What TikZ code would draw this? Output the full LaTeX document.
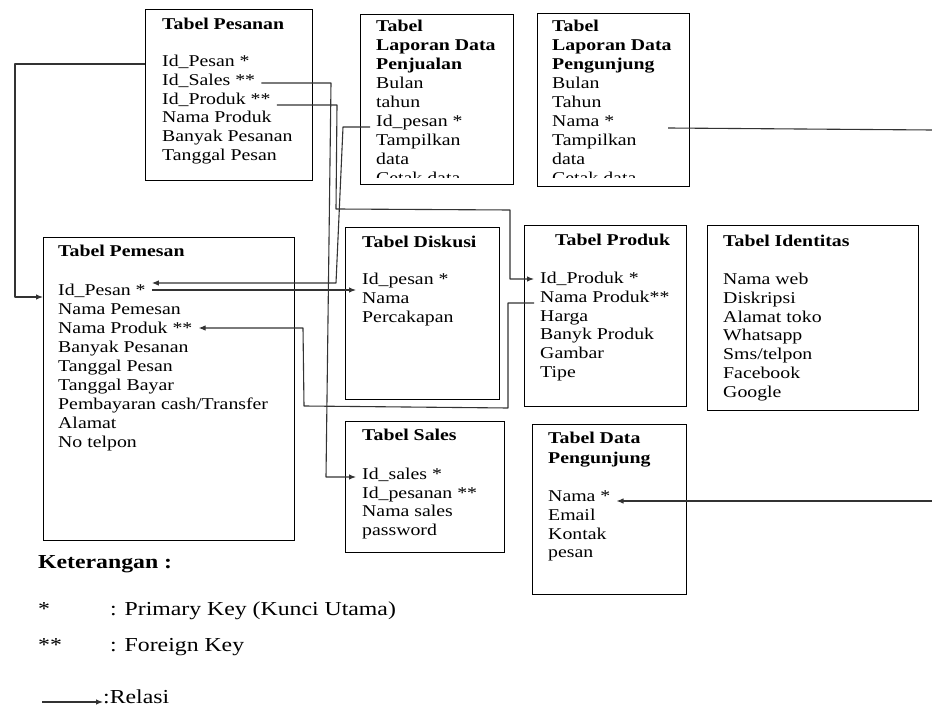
\documentclass[tikz,border=0pt]{standalone}
\usepackage{fontspec}
\setmainfont{Liberation Serif}[FakeStretch=1.2]
\usetikzlibrary{arrows.meta}

% rows of one table: style, name prefix, x, first baseline, line gap, lines
\newcommand\tblrows[6]{%
  \foreach \txt [count=\i] in {#6} {
    \node[#1] (#2\i) at (#3,{#4+(\i-1)*#5}) {\txt};
  }}

\tikzset{
  tbl/.style={draw=black, line width=1.3pt, anchor=north west, inner sep=0pt},
  row/.style={anchor=base west, inner xsep=6pt, inner ysep=1pt,
              font=\fontsize{16.5}{18.8}\selectfont},
  ttl/.style={row, font=\fontsize{16.5}{18.8}\selectfont\bfseries},
  legtxt/.style={anchor=base west, inner sep=0pt, font=\fontsize{19.8}{22}\selectfont},
  link/.style={draw=black!80, line width=1.1pt, line join=round},
  rel/.style={link, -{Latex[length=7pt,width=5.5pt]}},
}

\begin{document}
\begin{tikzpicture}[x=1pt, y=-1pt]
\useasboundingbox (0,0) rectangle (932,708);

% ---- table frames ----
\node[tbl, minimum width=167pt, minimum height=171pt] (pesanan)   at (145,9)   {};
\node[tbl, minimum width=153pt, minimum height=170pt] (lapjual)   at (360,14)  {};
\node[tbl, minimum width=152pt, minimum height=173pt] (lapkunj)   at (537,13)  {};
\node[tbl, minimum width=251pt, minimum height=303pt] (pemesan)   at (43,237)  {};
\node[tbl, minimum width=154pt, minimum height=172pt] (diskusi)   at (345,227) {};
\node[tbl, minimum width=162pt, minimum height=181pt] (produk)    at (524,225) {};
\node[tbl, minimum width=211pt, minimum height=185pt] (identitas) at (707,225) {};
\node[tbl, minimum width=159pt, minimum height=131pt] (sales)     at (345,421) {};
\node[tbl, minimum width=154pt, minimum height=170pt] (datakunj)  at (532,424) {};

% ---- Tabel Pesanan ----
\node[ttl] (pesT) at (156,30) {Tabel Pesanan};
\tblrows{row}{pes}{156}{66.5}{18.8}{Id\_Pesan *, Id\_Sales **, Id\_Produk **, Nama Produk, Banyak Pesanan, Tanggal Pesan}

% ---- Tabel Laporan Data Penjualan (last line cut by the frame) ----
\begin{scope}
  \clip (361,15) rectangle (512,178);
  \tblrows{ttl}{lpjT}{370}{32}{19}{Tabel, Laporan Data, Penjualan}
  \tblrows{row}{lpj}{370}{89}{19}{Bulan, tahun, Id\_pesan *, Tampilkan, data, Cetak data}
\end{scope}

% ---- Tabel Laporan Data Pengunjung (last line cut by the frame) ----
\begin{scope}
  \clip (538,14) rectangle (688,178);
  \tblrows{ttl}{lpgT}{546}{32}{19}{Tabel, Laporan Data, Pengunjung}
  \tblrows{row}{lpg}{546}{89}{19}{Bulan, Tahun, Nama *, Tampilkan, data, Cetak data}
\end{scope}

% ---- Tabel Pemesan ----
\node[ttl] (pemT) at (52,257) {Tabel Pemesan};
\tblrows{row}{pem}{52}{296}{18.9}{Id\_Pesan *, Nama Pemesan, Nama Produk **, Banyak Pesanan, Tanggal Pesan, Tanggal Bayar, Pembayaran cash/Transfer, Alamat, No telpon}

% ---- Tabel Diskusi ----
\node[ttl] (disT) at (356,247.5) {Tabel Diskusi};
\tblrows{row}{dis}{356}{284.5}{18.8}{Id\_pesan *, Nama, Percakapan}

% ---- Tabel Produk ----
\node[ttl] (proT) at (549,246) {Tabel Produk};
\tblrows{row}{pro}{534}{283.5}{18.8}{Id\_Produk *, Nama Produk**, Harga, Banyk Produk, Gambar, Tipe}

% ---- Tabel Identitas ----
\node[ttl] (ideT) at (717,246.5) {Tabel Identitas};
\tblrows{row}{ide}{717}{284.5}{18.8}{Nama web, Diskripsi, Alamat toko, Whatsapp, Sms/telpon, Facebook, Google}

% ---- Tabel Sales ----
\node[ttl] (salT) at (356,441) {Tabel Sales};
\tblrows{row}{sal}{356}{479.5}{18.5}{Id\_sales *, Id\_pesanan **, Nama sales, password}

% ---- Tabel Data Pengunjung ----
\tblrows{ttl}{dpgT}{542}{444}{19.5}{Tabel Data, Pengunjung}
\tblrows{row}{dpg}{542}{501.5}{18.8}{Nama *, Email, Kontak, pesan}

% ---- relations ----
\coordinate (lpgOut) at (668,128);
\coordinate (edgeA)  at (932,130);
\coordinate (edgeB)  at (932,501);

\draw[rel] (pesanan.west |- 0,64) -- (15,64) -- (15,297) -- (pemesan.west |- 0,297);
\draw[rel] (pes2.east |- 0,83) -- (331,83) -- (326,477) -- (sal1.west |- 0,477);
\draw[rel] (pes3.east |- 0,105) -- (337,105) -- (336,209) -- (510,210) -- (510,279) -- (pro1.west |- 0,279);
\draw[rel] (lpj3.west |- 0,127) -- (343,127) -- (336,283) -- (pem1.east |- 0,283);
\draw[rel] (pem1.east |- 0,290) -- (dis1.west |- 0,290);
\draw[rel] (pro2.west |- 0,303) -- (508,303) -- (508,408) -- (304,406) -- (303,328) -- (pem3.east |- 0,328);
\draw[link] (lpgOut) -- (edgeA);
\draw[rel] (edgeB) -- (dpg1.east |- 0,501);

% ---- legend ----
\node[legtxt, font=\fontsize{19.8}{22}\selectfont\bfseries] (ket) at (38,568) {Keterangan :};
\node[legtxt] (pkSym) at (38,615) {*};
\node[legtxt] (pkTxt) at (110,615) {: Primary Key (Kunci Utama)};
\node[legtxt] (fkSym) at (38,651) {**};
\node[legtxt] (fkTxt) at (110,651) {: Foreign Key};
\node[legtxt] (relTxt) at (103,703) {:Relasi};
\coordinate (relFrom) at (42,702);
\draw[rel] (relFrom) -- (relTxt.west |- 0,702);
\end{tikzpicture}
\end{document}
